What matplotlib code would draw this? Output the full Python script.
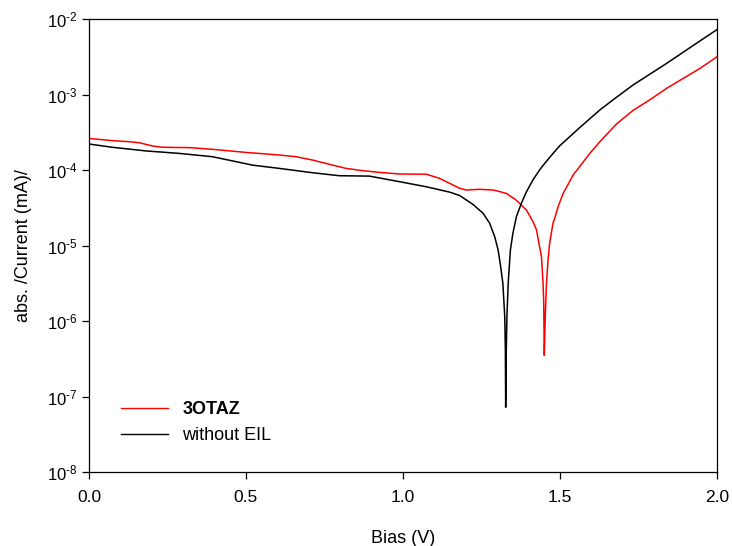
import matplotlib
matplotlib.use("Agg")
import matplotlib.pyplot as plt
from matplotlib.ticker import FixedLocator, FixedFormatter

plt.rcParams['font.family'] = ['Liberation Sans', 'DejaVu Sans']
plt.rcParams['mathtext.fontset'] = 'custom'
plt.rcParams['mathtext.rm'] = 'Liberation Sans'
plt.rcParams['mathtext.it'] = 'Liberation Sans:italic'
plt.rcParams['mathtext.bf'] = 'Liberation Sans:bold'

# 3OTAZ (red)
bias_otaz = [0.0, 0.074, 0.128, 0.160, 0.202, 0.234, 0.319, 0.393, 0.50, 0.606,
             0.659, 0.712, 0.776, 0.819, 0.872, 0.925, 0.989, 1.074, 1.116, 1.148,
             1.180, 1.202, 1.244, 1.286, 1.297, 1.329, 1.361, 1.393, 1.414, 1.425,
             1.435, 1.441, 1.446, 1.448, 1.450, 1.453, 1.457, 1.462, 1.467, 1.478,
             1.483, 1.494, 1.510, 1.542, 1.595, 1.627, 1.680, 1.733, 1.786, 1.840,
             1.893, 1.946, 2.0]
current_otaz = [2.62e-4, 2.45e-4, 2.37e-4, 2.30e-4, 2.08e-4, 2.0e-4, 1.98e-4, 1.88e-4, 1.71e-4, 1.58e-4,
                1.50e-4, 1.355e-4, 1.16e-4, 1.05e-4, 9.8e-5, 9.3e-5, 8.85e-5, 8.8e-5, 7.76e-5, 6.67e-5,
                5.73e-5, 5.43e-5, 5.55e-5, 5.43e-5, 5.32e-5, 4.9e-5, 3.98e-5, 2.95e-5, 2.07e-5, 1.62e-5,
                9.6e-6, 7.1e-6, 3.16e-6, 1.9e-6, 3.5e-7, 1.15e-6, 3.16e-6, 6.5e-6, 1.07e-5, 2.0e-5,
                2.29e-5, 3.27e-5, 4.9e-5, 8.6e-5, 1.66e-4, 2.37e-4, 4.07e-4, 6.17e-4, 8.5e-4, 1.21e-3,
                1.64e-3, 2.22e-3, 3.16e-3]

# without EIL (black)
bias_noeil = [0.0, 0.074, 0.181, 0.287, 0.393, 0.521, 0.606, 0.712, 0.797, 0.893,
              0.989, 1.074, 1.148, 1.180, 1.223, 1.255, 1.276, 1.292, 1.303, 1.311,
              1.318, 1.324, 1.326, 1.327, 1.329, 1.331, 1.335, 1.342, 1.350, 1.361,
              1.377, 1.393, 1.414, 1.435, 1.446, 1.478, 1.499, 1.563, 1.627, 1.669,
              1.733, 1.840, 1.946, 2.0]
current_noeil = [2.21e-4, 2.0e-4, 1.79e-4, 1.66e-4, 1.50e-4, 1.16e-4, 1.05e-4, 9.2e-5, 8.4e-5, 8.3e-5,
                 7.0e-5, 6.0e-5, 5.1e-5, 4.6e-5, 3.5e-5, 2.67e-5, 1.97e-5, 1.31e-5, 8.7e-6, 5.25e-6,
                 3.16e-6, 1.15e-6, 4.2e-7, 7.2e-8, 4.2e-7, 1.15e-6, 3.16e-6, 8.7e-6, 1.45e-5, 2.4e-5,
                 3.63e-5, 5.13e-5, 7.41e-5, 1.0e-4, 1.15e-4, 1.66e-4, 2.09e-4, 3.65e-4, 6.24e-4, 8.5e-4,
                 1.34e-3, 2.59e-3, 5.13e-3, 7.24e-3]

x_ticks = [0.0, 0.5, 1.0, 1.5, 2.0]
x_labels = ['0.0', '0.5', '1.0', '1.5', '2.0']
y_ticks = [1e-8, 1e-7, 1e-6, 1e-5, 1e-4, 1e-3, 1e-2]
y_exponents = [8, 7, 6, 5, 4, 3, 2]

fig = plt.figure(figsize=(7.32, 5.46), dpi=100)
ax = fig.add_axes([89/732, 1-472/546, (717-89)/732, (472-19)/546])

ax.plot(bias_otaz, current_otaz, color='#ff0000', lw=1.1, label='3OTAZ')
ax.plot(bias_noeil, current_noeil, color='black', lw=1.1, label='without EIL')

ax.set_yscale('log')
ax.set_xlim(0, 2.0)
ax.set_ylim(1e-8, 1e-2)
ax.set_xticks(x_ticks)
ax.set_xticklabels(x_labels)
ax.yaxis.set_major_locator(FixedLocator(y_ticks))
ax.yaxis.set_major_formatter(FixedFormatter([r'$\mathregular{10^{\text{-}%d}}$' % e for e in y_exponents]))
ax.minorticks_off()
ax.tick_params(direction='out', length=5, width=0.9, top=False, right=False)
ax.tick_params(axis='x', labelsize=12.5, pad=8)
ax.tick_params(axis='y', labelsize=12, pad=3)
for s in ax.spines.values():
    s.set_linewidth(0.9)

ax.set_xlabel('Bias (V)', fontsize=13, labelpad=18)
ax.set_ylabel('abs. /Current (mA)/', fontsize=13, labelpad=11)

leg = ax.legend(loc='upper left', bbox_to_anchor=(0.051, 0.157), frameon=False,
                borderpad=0, borderaxespad=0, handlelength=2.6, handletextpad=0.8,
                labelspacing=0.5, fontsize=13)
leg.get_texts()[0].set_fontweight('bold')
for l in leg.get_lines():
    l.set_linewidth(1.0)

fig.savefig('out.png', dpi=100)
